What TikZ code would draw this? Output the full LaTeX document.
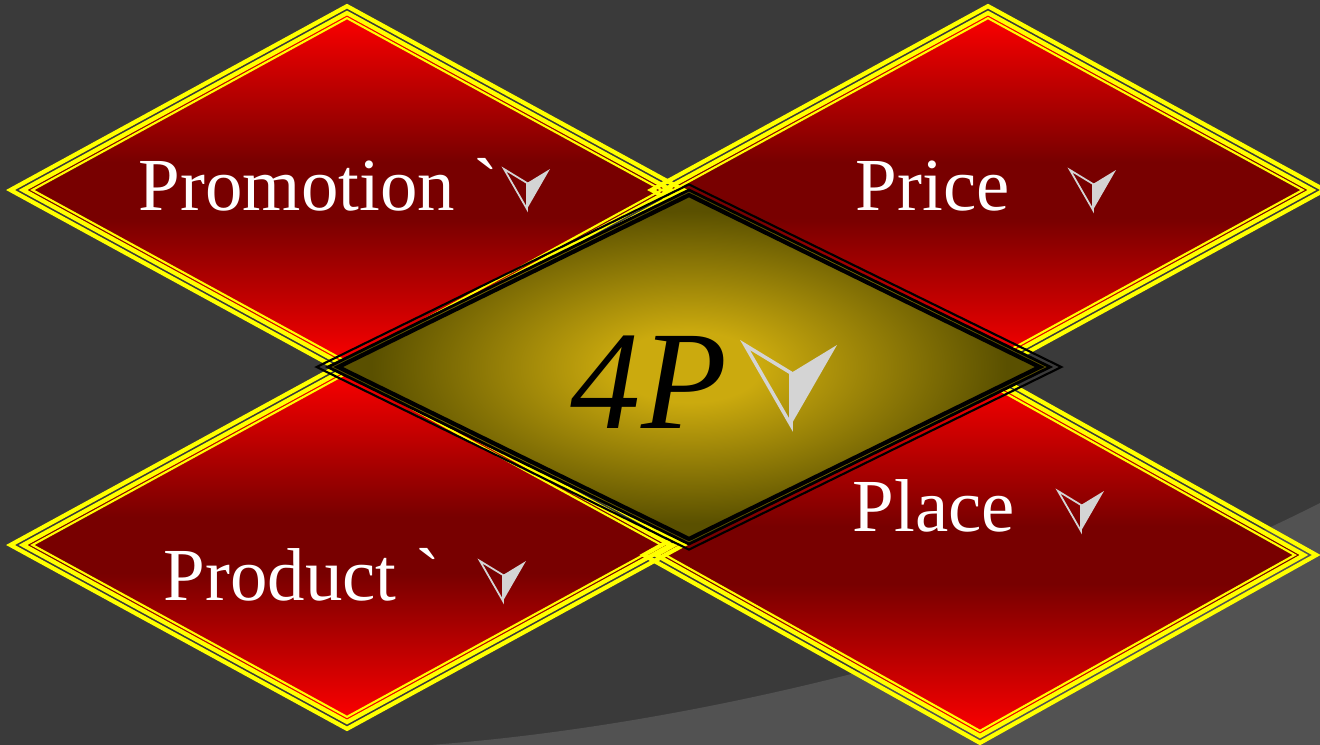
\documentclass[tikz,border=0pt]{standalone}
\usepackage{fontspec}
\setmainfont{Liberation Serif}
\definecolor{bgdark}{HTML}{3A3A3A}
\definecolor{bglight}{HTML}{525252}
\definecolor{rubylight}{HTML}{FF0000}
\definecolor{rubydark}{HTML}{780000}
\definecolor{rimyellow}{HTML}{FFFF00}
\definecolor{markgray}{HTML}{D4D4D4}
\definecolor{fourpgold}{HTML}{CBAA0E}
\definecolor{fourpdark}{HTML}{5A5000}
\pgfdeclareverticalshading{rubyband}{100bp}{color(0bp)=(rubylight); color(25bp)=(rubylight); color(46bp)=(rubydark); color(54bp)=(rubydark); color(75bp)=(rubylight); color(100bp)=(rubylight)}
\pgfdeclareradialshading{goldglow}{\pgfpoint{0bp}{0bp}}{color(0bp)=(fourpgold); color(5bp)=(fourpgold); color(22bp)=(fourpdark); color(50bp)=(fourpdark)}
\newcommand\rims[4]{% half width, half height, colour, offset/width list
  \pgfmathsetmacro\kx{veclen(#1/100,#2/100)/(#2/100)}
  \pgfmathsetmacro\ky{veclen(#1/100,#2/100)/(#1/100)}
  \foreach \off/\lw in {#4}
    \draw[#3, line width=\lw pt] ({-#1-\off*\kx},0) -- (0,{-#2-\off*\ky}) -- ({#1+\off*\kx},0) -- (0,{#2+\off*\ky}) -- cycle;}
\tikzset{
  label4/.style={text=white, inner sep=0pt, anchor=base west, font=\fontsize{21.3}{25}\selectfont},
  pics/vmark/.style={code={
    \draw[markgray] (-23,0) -- (0,14) -- (0,40) -- cycle;
    \fill[markgray] (0,14) -- (23,0) -- (0,40) -- cycle;}}
}
\begin{document}
\begin{tikzpicture}[x=0.01cm, y=-0.01cm, line join=miter]
	\useasboundingbox (0,0) rectangle (1320,745);
	\clip (0,0) rectangle (1320,745);
	\fill[bgdark] (0,0) rectangle (1320,745);
	\fill[bglight] (430,745) .. controls (700,725) and (1050,640) .. (1320,503) -- (1320,745) -- cycle;
	% red diamonds
	\foreach \cx/\cy/\hh in {347/190/177, 988/190/177, 347/545/177, 980/555/181}
		\shade[shading=rubyband, shift={(\cx,\cy)}] (-324,0) -- (0,-\hh) -- (324,0) -- (0,\hh) -- cycle;
	\foreach \cx/\cy/\hh in {347/190/177, 988/190/177, 347/545/177, 980/555/181}{
		\begin{scope}[shift={(\cx,\cy)}] \rims{324}{\hh}{rimyellow}{6/1.2, 0/1.2, -4.5/0.6} \end{scope}}
	% centre
	\begin{scope}[shift={(689,367)}]
		\shade[shading=goldglow] (-361,0) -- (0,-177) -- (361,0) -- (0,177) -- cycle;
		\rims{361}{177}{black}{5/0.6, 0/0.8, -4.5/1.2}
	\end{scope}
	\node[label4] (promotion) at (138,210) {Promotion \textasciigrave};
	\node[label4] (price) at (855,210) {Price};
	\node[label4] (product) at (163,600) {Product \textasciigrave};
	\node[label4] (place) at (852,531) {Place};
	\node[inner sep=0pt, anchor=base west, font=\fontsize{40}{46}\selectfont\itshape] (fourp) at (570,428) {4P};
	\pic[line width=0.5pt] at (527,169) {vmark};
	\pic[line width=0.5pt] at (1093,170) {vmark};
	\pic[line width=0.5pt] at (1081,491) {vmark};
	\pic[line width=0.5pt] at (503,561) {vmark};
	\pic[scale=2, line width=1pt] at (791,345) {vmark};
\end{tikzpicture}
\end{document}
